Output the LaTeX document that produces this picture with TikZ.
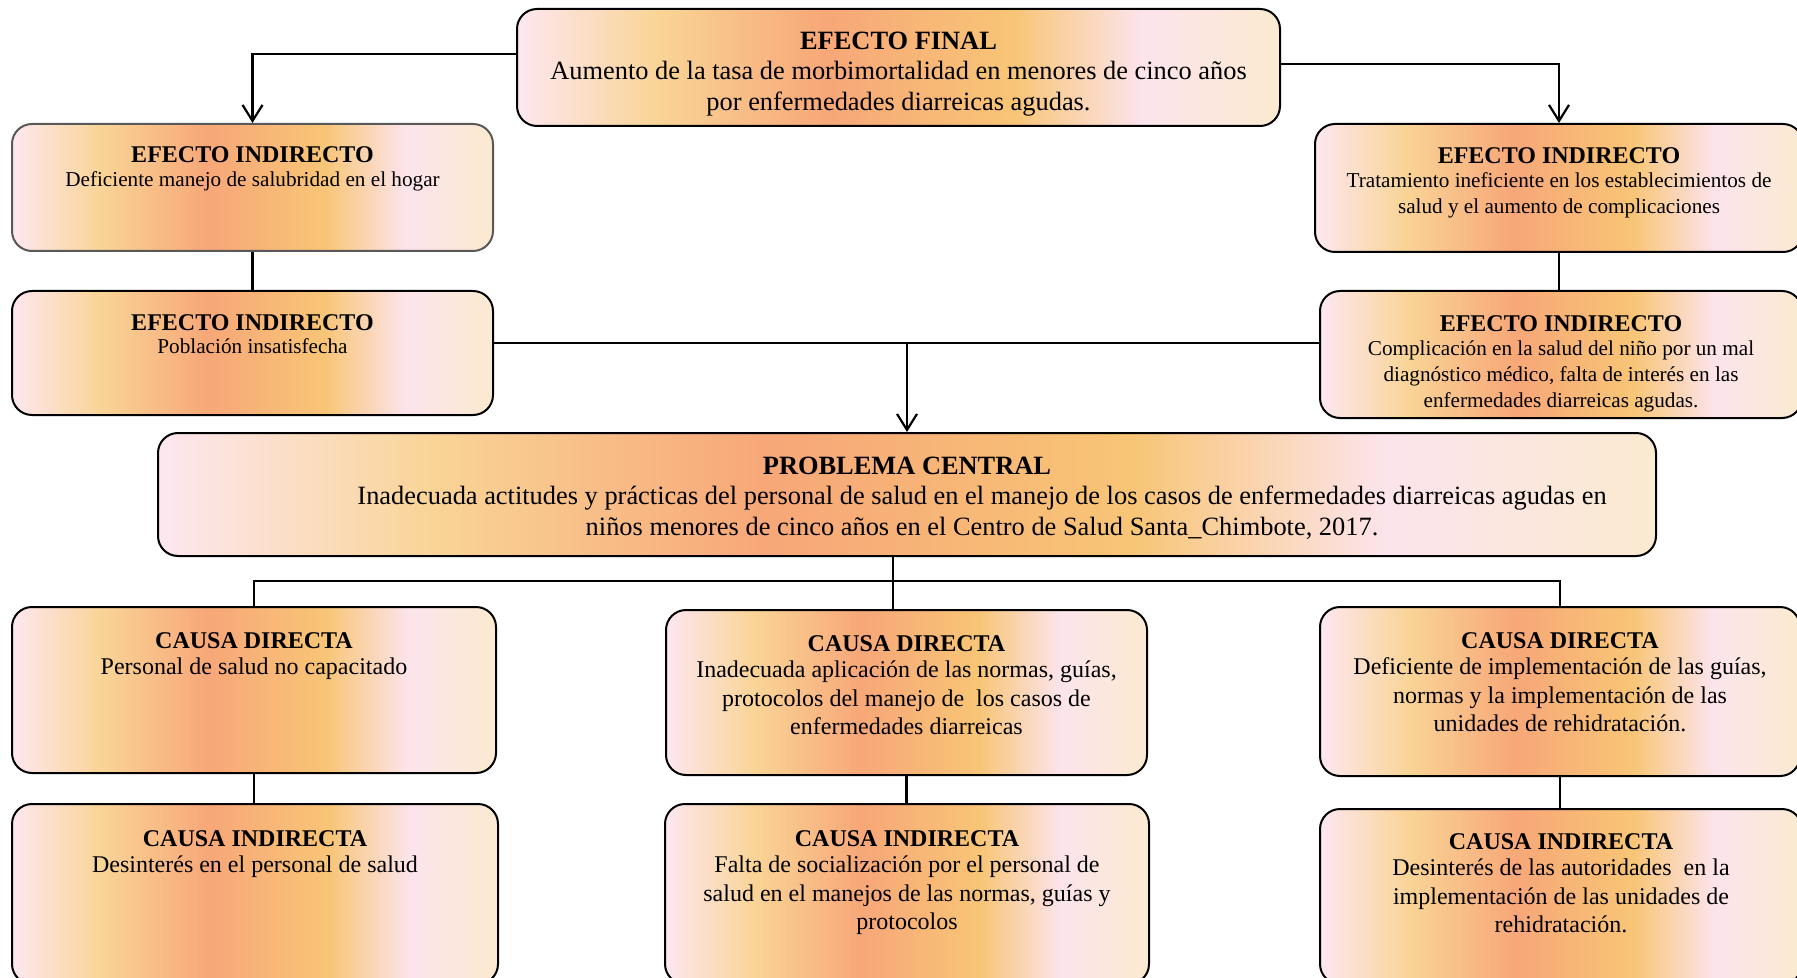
\documentclass[tikz,border=0pt]{standalone}
\usepackage{fontspec}
\setmainfont{Liberation Serif}
\usetikzlibrary{arrows.meta}
\definecolor{sA}{RGB}{253,231,240}
\definecolor{sB}{RGB}{249,212,150}
\definecolor{sC}{RGB}{247,167,120}
\definecolor{sD}{RGB}{248,197,118}
\definecolor{sE}{RGB}{252,228,236}
\definecolor{sF}{RGB}{251,234,208}
\pgfdeclarehorizontalshading{sunset}{100bp}{color(0bp)=(sA); color(25bp)=(sA); color(34.25bp)=(sB); color(45.3bp)=(sC); color(57.5bp)=(sD); color(66bp)=(sE); color(75bp)=(sF); color(100bp)=(sF)}
\newcommand\tbig{\fontsize{13.2}{15.5}\selectfont\bfseries}
\newcommand\bbig{\fontsize{13.2}{15.5}\selectfont\mdseries}
\newcommand\tmid{\fontsize{12}{13}\selectfont\bfseries}
\newcommand\bsmall{\fontsize{10.6}{13}\selectfont\mdseries}
\newcommand\bmid{\fontsize{12}{14.3}\selectfont\mdseries}
\newcommand\cbox[4]{\parbox[b][#2][t]{#1}{\centering\rule{0pt}{#3}#4}}
\begin{document}
\begin{tikzpicture}[x=0.5pt,y=-0.5pt,
  box/.style={draw=black, line width=1pt, rounded corners=10pt, shading=sunset, inner sep=0pt, anchor=north west},
  conn/.style={line width=1.1pt, draw=black},
  arr/.style={conn, -{Straight Barb[length=8pt,width=10pt,line width=1.1pt]}}]
\useasboundingbox (0,0) rectangle (1797,978);
\clip (0,0) rectangle (1797,978);

\node[box] (ef) at (516,8) {\cbox{381.5pt}{58.5pt}{20.3pt}{\tbig EFECTO FINAL\\[-0.6pt]\bbig Aumento de la tasa de morbimortalidad en menores de cinco años\\ por enfermedades diarreicas agudas.}};

\node[box, draw=black!65] (eil1) at (11,123) {\cbox{240.5pt}{63.5pt}{19.5pt}{\tmid EFECTO INDIRECTO\\[-1pt]\bsmall Deficiente manejo de salubridad en el hogar}};
\node[box] (eil2) at (11,290) {\cbox{240.5pt}{62pt}{19.5pt}{\tmid EFECTO INDIRECTO\\[-1pt]\bsmall Población insatisfecha}};
\node[box] (eir1) at (1314,123) {\cbox{244pt}{64pt}{20pt}{\tmid EFECTO INDIRECTO\\[-1pt]\bsmall Tratamiento ineficiente en los establecimientos de\\ salud y el aumento de complicaciones}};
\node[box] (eir2) at (1319,290) {\cbox{241pt}{63.5pt}{20pt}{\tmid EFECTO INDIRECTO\\[-1pt]\bsmall Complicación en la salud del niño por un mal\\ diagnóstico médico, falta de interés en las\\ enfermedades diarreicas agudas.}};

\node[box] (pc) at (157,432) {\cbox{749pt}{61.5pt}{20.8pt}{\tbig PROBLEMA CENTRAL\\[-0.6pt]\bbig \hspace*{75pt}Inadecuada actitudes y prácticas del personal de salud en el manejo de los casos de enfermedades diarreicas agudas en\\ \hspace*{75pt}niños menores de cinco años en el Centro de Salud Santa\_Chimbote, 2017.}};

\node[box] (cd1) at (11,606) {\cbox{242pt}{83pt}{20.5pt}{\tmid CAUSA DIRECTA\\[-1pt]\bmid Personal de salud no capacitado}};
\node[box] (cd2) at (665,609) {\cbox{240.5pt}{82.5pt}{20.5pt}{\tmid CAUSA DIRECTA\\[-1pt]\bmid Inadecuada aplicación de las normas, guías,\\ protocolos del manejo de\ \ los casos de\\ enfermedades diarreicas}};
\node[box] (cd3) at (1319,606) {\cbox{240pt}{84.5pt}{20.5pt}{\tmid CAUSA DIRECTA\\[-1pt]\bmid Deficiente de implementación de las guías,\\ normas y la implementación de las\\ unidades de rehidratación.}};

\node[box] (ci1) at (11,803) {\cbox{243pt}{90pt}{21pt}{\tmid CAUSA INDIRECTA\\[-1pt]\bmid Desinterés en el personal de salud}};
\node[box] (ci2) at (664,803) {\cbox{242pt}{90pt}{21pt}{\tmid CAUSA INDIRECTA\\[-1pt]\bmid Falta de socialización por el personal de\\ salud en el manejos de las normas, guías y\\ protocolos}};
\node[box] (ci3) at (1319,808) {\cbox{241pt}{87.5pt}{20pt}{\tmid CAUSA INDIRECTA\\[-1pt]\bmid Desinterés de las autoridades\ \ en la\\ implementación de las unidades de\\ rehidratación.}};

% effects
\draw[arr] (ef.west |- 0,54) -| (eil1.north);
\draw[arr] (ef.east |- 0,64) -| (eir1.north);
\draw[conn] (eil1.south) -- (eil2.north);
\draw[conn] (eir1.south) -- (eir1.south |- eir2.north);
\draw[conn] (eil2.east |- 0,343) -- (eir2.west |- 0,343);
\draw[arr] (pc.north |- 0,343) -- (pc.north);

% causes
\coordinate (j) at (893,581);
\draw[conn] (pc.south -| j) -- (j |- cd2.north);
\draw[conn] (cd1.north) |- (j) -| (cd3.north);
\draw[conn] (cd1.south) -- (ci1.north -| cd1.south);
\draw[conn] (cd2.south) -- (ci2.north -| cd2.south);
\draw[conn] (cd3.south) -- (ci3.north -| cd3.south);
\end{tikzpicture}
\end{document}
